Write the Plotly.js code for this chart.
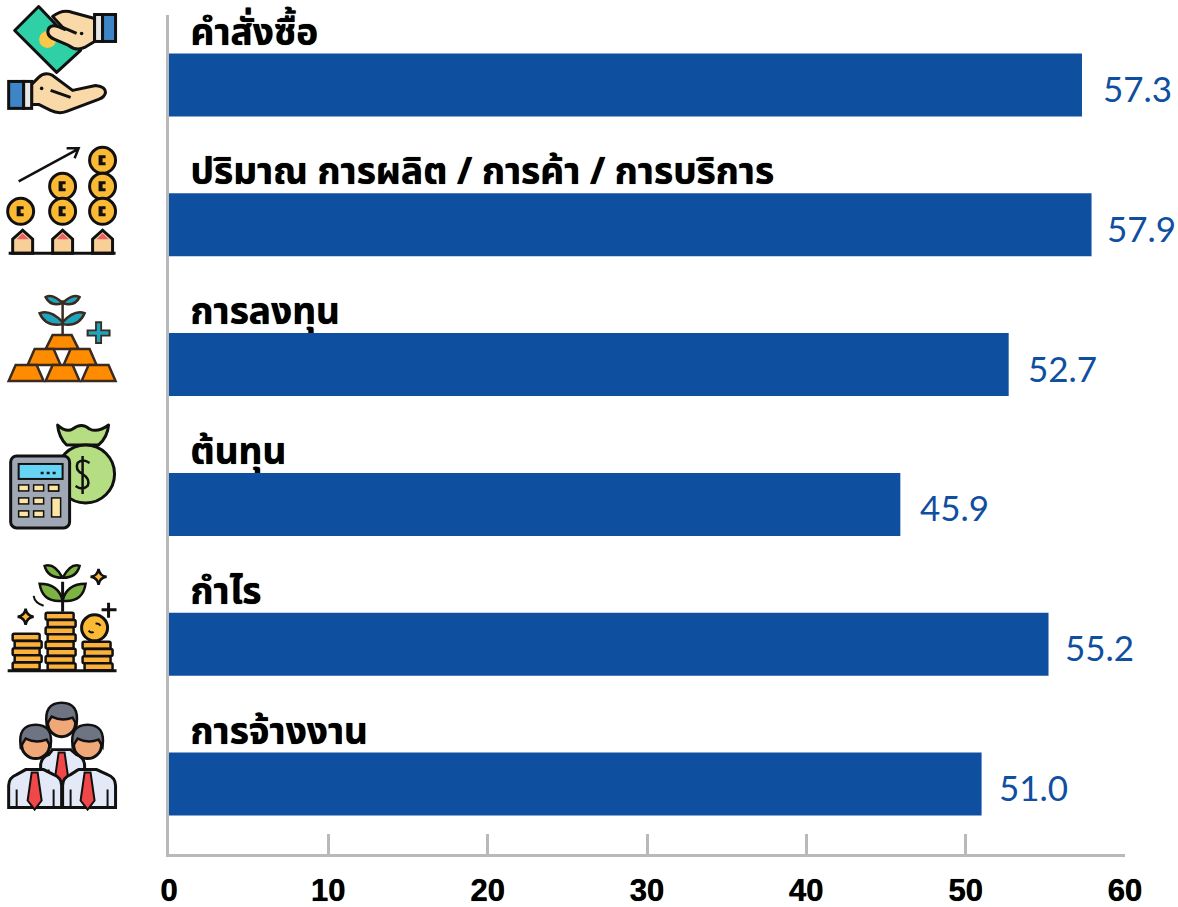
<!DOCTYPE html>
<html><head><meta charset="utf-8">
<script src="https://cdn.plot.ly/plotly-3.0.1.min.js"></script>
<style>html,body{margin:0;padding:0;background:#fff}#c{width:1178px;height:907px}</style>
</head><body><div id="c"></div>
<script>
const categories = ['คำสั่งซื้อ','ปริมาณ การผลิต / การค้า / การบริการ','การลงทุน','ต้นทุน','กำไร','การจ้างงาน'];
const values = [57.3,57.9,52.7,45.9,55.2,51.0];
const labelOffsets = [19,13,17,18,14,15];
const xTicks = [0,10,20,30,40,50,60];
const BLUE = '#0f4fa0', GREY = '#b9b9bb';

function coin(x,y){return `<circle cx="${x}" cy="${y}" r="13" fill="#fbb934" stroke="#111" stroke-width="3"/><path d="M${x+3},${y-5}h-7v10h7v-3h-3v-4h3z" fill="#111"/>`;}
function house(x){return `<path d="M${x-10},253v-14l10,-9l10,9v14z" fill="#f8cf96" stroke="#111" stroke-width="3"/><path d="M${x-6},239l6,-6l6,6z" fill="#e8606a"/>`;}
function bar(x1,x2,y1,y2){return `<path d="M${x1},${y2}L${x1+7},${y1}H${x2-7}L${x2},${y2}Z" fill="#ff8c00" stroke="#3a2a20" stroke-width="2.5"/>`;}
function stack(x,w,y,n){let s='';for(let i=0;i<n;i++){const o=i%2?2:0;s+=`<rect x="${x+o}" y="${y+i*7.2}" width="${w}" height="7" rx="1.5" fill="#fbb13a" stroke="#111" stroke-width="2.5"/>`;}return s;}
function star(x,y,r){return `<path d="M${x},${y-r}Q${x+1},${y-1} ${x+r},${y}Q${x+1},${y+1} ${x},${y+r}Q${x-1},${y+1} ${x-r},${y}Q${x-1},${y-1} ${x},${y-r}Z" fill="#fbb934" stroke="#111" stroke-width="2.5"/>`;}
function person(x,y,hair){return `<circle cx="${x}" cy="${y}" r="14" fill="#f0a878" stroke="#111" stroke-width="3"/><path d="M${x-15},${y+2}Q${x-18},${y-20} ${x},${y-20}Q${x+18},${y-20} ${x+15},${y+2}L${x+11},${y-5}Q${x},${y-1} ${x-10},${y-6}Z" fill="${hair}" stroke="#111" stroke-width="2.5"/>`;}
function body(x1,x2,cx,top){return `<path d="M${x1},808V${top+16}Q${x1},${top+8} ${x1+8},${top+5}L${cx-9},${top}H${cx+9}L${x2-8},${top+5}Q${x2},${top+8} ${x2},${top+16}V808Z" fill="#e3e9f7" stroke="#111" stroke-width="3"/><path d="M${x1+8},808V${top+20}M${x2-8},808V${top+20}" stroke="#111" stroke-width="2"/><path d="M${cx-3},${top+3}h6l4,28l-7,9l-7,-9z" fill="#f04848" stroke="#111" stroke-width="2"/>`;}

let calcBtns='';
[[18,485],[33,485],[48,485],[18,498],[33,498],[18,511],[33,511]].forEach(p=>{calcBtns+=`<rect x="${p[0]}" y="${p[1]}" width="10" height="6" fill="#fde6a3" stroke="#111" stroke-width="1.5"/>`;});

const iconSvg = `<svg xmlns="http://www.w3.org/2000/svg" width="168" height="907" viewBox="0 0 168 907">
<path d="M14,30L38,6L80,50L56,72Z" fill="#2fd0a5" stroke="#111" stroke-width="3" stroke-linejoin="round"/>
<circle cx="47" cy="39" r="8.5" fill="#fdc84a"/>
<path d="M52,16Q62,8 72,12L94,18V41L84,47Q76,51 68,45L54,39Q45,35 48,28Q51,24 57,26L64,29Z" fill="#f9d9a8" stroke="#111" stroke-width="3" stroke-linejoin="round"/>
<path d="M62,27L76,33" stroke="#111" stroke-width="3"/><circle cx="81" cy="33" r="1.8" fill="#111"/>
<rect x="94" y="14" width="8" height="27" fill="#e8e8e8" stroke="#111" stroke-width="3"/><rect x="102" y="14" width="13" height="27" fill="#3d85c6" stroke="#111" stroke-width="3"/>
<path d="M31,84L38,77Q44,71 52,75L72,90L95,85Q105,86 105,92Q104,97 98,99L66,111Q58,114 50,110L38,104H31Z" fill="#f9d9a8" stroke="#111" stroke-width="3" stroke-linejoin="round"/>
<path d="M50,90L70,97" stroke="#111" stroke-width="3"/><circle cx="41" cy="88" r="1.8" fill="#111"/>
<rect x="8" y="81" width="15" height="27" fill="#3d85c6" stroke="#111" stroke-width="3"/><rect x="23" y="81" width="8" height="27" fill="#e8e8e8" stroke="#111" stroke-width="3"/>

<path d="M18,181L77,149M66,148H78L74,158" fill="none" stroke="#111" stroke-width="2.5"/>
${coin(20,211)}${coin(62,186)}${coin(62,211)}${coin(102,160)}${coin(102,186)}${coin(102,211)}
${house(22)}${house(62)}${house(102)}
<path d="M8,253H115" stroke="#111" stroke-width="3"/>

<path d="M62,300V336" stroke="#3a2a20" stroke-width="2.5"/>
<path d="M62,303Q52,293 45,297Q50,307 62,303ZM62,303Q72,293 79,297Q74,307 62,303Z" fill="#1ea5bd" stroke="#3a2a20" stroke-width="2.5"/>
<path d="M62,322Q50,309 39,313Q45,327 62,324ZM62,322Q74,309 84,313Q78,327 62,324Z" fill="#1ea5bd" stroke="#3a2a20" stroke-width="2.5"/>
<path d="M98,321V344M86,333H110" stroke="#3a2a20" stroke-width="7"/><path d="M98,323V342M88,333H108" stroke="#1ea5bd" stroke-width="3.5"/>
${bar(45,78,335,349)}${bar(27,60,349,365)}${bar(63,96,349,365)}${bar(8,43,365,381)}${bar(45,79,365,381)}${bar(81,115,365,381)}

<path d="M57,425Q66,433 72,429Q81,422 89,429Q97,433 108,425Q107,437 98,445H66Q58,437 57,425Z" fill="#b5dd82" stroke="#111" stroke-width="3" stroke-linejoin="round"/>
<circle cx="85" cy="474" r="29" fill="#b5dd82" stroke="#111" stroke-width="3"/>
<path d="M89,463Q82,458 77,463Q74,470 82,474Q90,479 87,486Q82,491 75,486M82,456V494" fill="none" stroke="#111" stroke-width="2.5"/>
<rect x="10" y="456" width="59" height="72" rx="6" fill="#a0a8b5" stroke="#111" stroke-width="3"/>
<rect x="18" y="464" width="44" height="15" fill="#66d4f5" stroke="#111" stroke-width="2"/>
<path d="M40,473h3M46,473h3M52,473h3" stroke="#111" stroke-width="2.5"/>
${calcBtns}<rect x="48" y="485" width="10" height="6" fill="#fde6a3" stroke="#111" stroke-width="1.5"/><rect x="51" y="498" width="9" height="19" fill="#fde6a3" stroke="#111" stroke-width="1.5"/>

<path d="M62,582V612" stroke="#111" stroke-width="3"/>
<path d="M62,578Q54,563 44,566Q47,578 62,578ZM62,578Q70,563 79,566Q76,578 62,578Z" fill="#7cb342" stroke="#111" stroke-width="2.5"/>
<path d="M62,601Q58,584 39,584Q42,603 62,601ZM62,601Q66,584 85,584Q82,603 62,601Z" fill="#7cb342" stroke="#111" stroke-width="2.5"/>
${star(98,577,8)}${star(25,617,8)}
<path d="M108,603V618M101,610H116" stroke="#111" stroke-width="3"/>
<path d="M33,596Q34,603 43,606" fill="none" stroke="#111" stroke-width="2"/>
${stack(12,27,634,5)}${stack(45,28,613,8)}${stack(82,28,642,4)}
<circle cx="94" cy="628" r="13" fill="#fbb934" stroke="#111" stroke-width="3"/>
<path d="M88,631Q91,634 93,632M95,624Q98,623 100,626" fill="none" stroke="#111" stroke-width="2"/>
<path d="M7,671H116" stroke="#111" stroke-width="3"/>

${body(40,84,61,750)}${person(61,723,'#6f7482')}
${body(8,61,34,770)}${body(62,115,87,770)}
${person(35,745,'#6f7482')}${person(87,745,'#6f7482')}
</svg>`;

const LABEL_LIFT = 0.355;
const data = [
{ type:'scatter', mode:'text', x:categories.map(()=>1.35), y:categories.map((c,i)=>i-LABEL_LIFT), text:categories,
  textposition:'middle right', hoverinfo:'skip', cliponaxis:false,
  textfont:{family:'"Noto Sans Thai","Noto Sans", "Liberation Sans", sans-serif', size:37, weight:700, color:'#000', shadow:'0 0 0.8px #000'}, xaxis:'x', yaxis:'y' },
{ type:'bar', orientation:'h', x:values, y:categories, xaxis:'x2', yaxis:'y2',
  marker:{color:BLUE, line:{width:0}}, width:0.45, hoverinfo:'x+y', cliponaxis:false }
];
const annotations = values.map((v,i)=>({
  xref:'x2', yref:'y2', x:v, y:categories[i], text:v.toFixed(1), showarrow:false,
  xanchor:'left', yanchor:'middle', xshift:labelOffsets[i], yshift:-3,
  font:{family:'Lato, Carlito, sans-serif', size:35, color:BLUE}
}));
const layout = {
  width:1178, height:907, autosize:false, showlegend:false,
  margin:{l:168.5,r:52.5,t:14.5,b:52.5,pad:0},
  paper_bgcolor:'#fff', plot_bgcolor:'#fff',
  font:{family:'"Liberation Sans", Arial, sans-serif', color:'#000'},
  xaxis:{range:[0,60], tickvals:xTicks, ticktext:xTicks.map(String), ticks:'inside', ticklen:20, tickwidth:3, tickcolor:GREY,
    showline:true, linecolor:GREY, linewidth:3, showgrid:false, zeroline:false, fixedrange:true,
    tickfont:{family:'"Liberation Sans", Arial, sans-serif', size:31, weight:700, color:'#000', shadow:'0 0 0.7px #000'}, ticklabelstandoff:7},
  yaxis:{range:[5.5,-0.5], showticklabels:false, showline:true, linecolor:GREY, linewidth:3, showgrid:false, zeroline:false, ticks:'', fixedrange:true, layer:'below traces'},
  xaxis2:{overlaying:'x', anchor:'y2', range:[0,60], visible:false, fixedrange:true},
  yaxis2:{overlaying:'y', anchor:'x2', type:'category', categoryorder:'array', categoryarray:categories, autorange:false, range:[5.5,-0.5], visible:false, fixedrange:true},
  annotations:annotations,
  images:[{source:'data:image/svg+xml;charset=utf-8,'+encodeURIComponent(iconSvg), xref:'paper', yref:'paper',
    x:-168.5/957, y:(840+14.5)/840, sizex:168/957, sizey:907/840, xanchor:'left', yanchor:'top', sizing:'stretch', layer:'above'}]
};
Plotly.newPlot('c',data,layout,{displayModeBar:false,staticPlot:true});
</script></body></html>
